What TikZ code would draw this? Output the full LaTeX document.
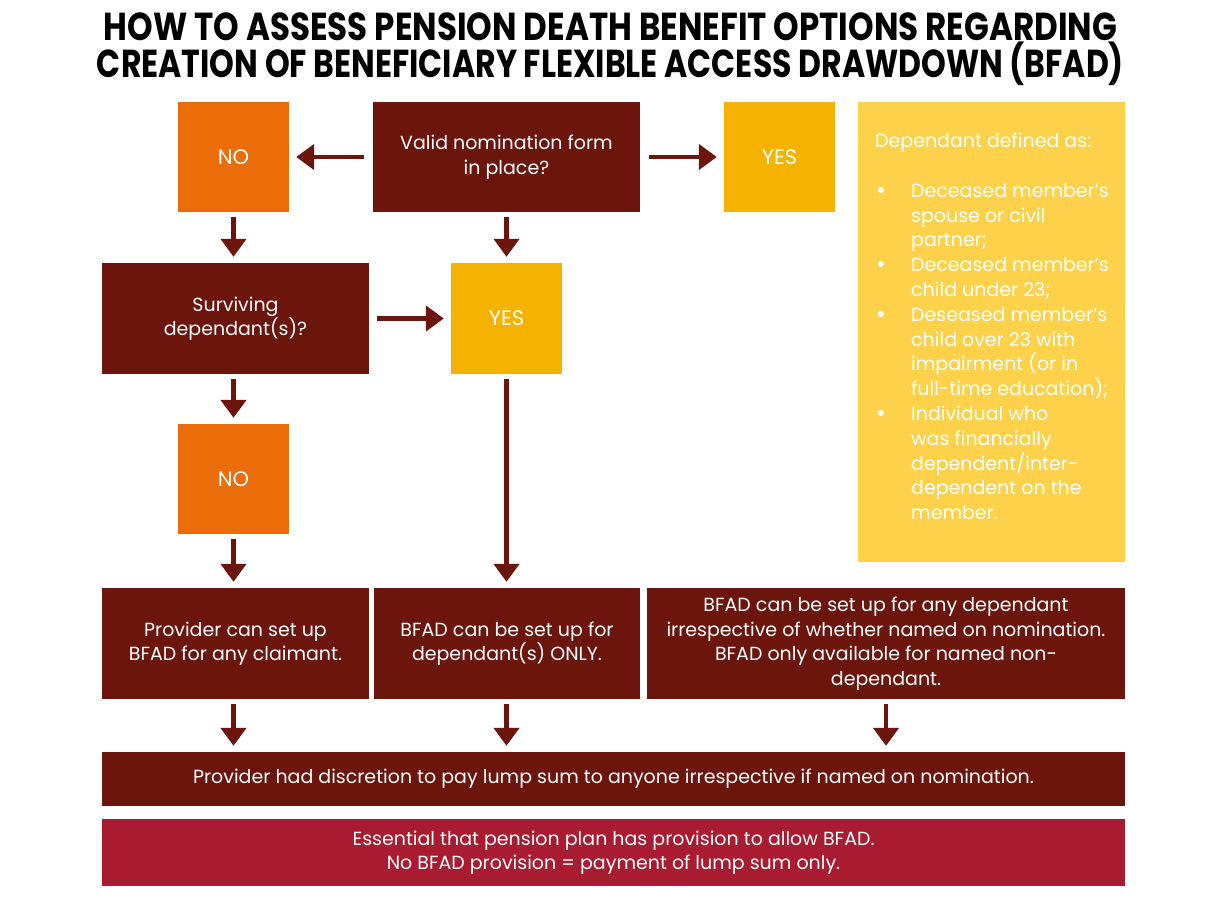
\documentclass[tikz,border=0pt]{standalone}
\usepackage{fontspec}
\setmainfont{Poppins}
\usetikzlibrary{arrows.meta}
\definecolor{dred}{HTML}{6B150D}
\definecolor{nocol}{HTML}{EB6D0A}
\definecolor{yescol}{HTML}{F5B200}
\definecolor{depcol}{HTML}{FDD24A}
\definecolor{esscol}{HTML}{A81B31}
\newcommand{\bul}{\hspace*{1pt}\makebox[35pt][l]{\fontsize{24}{24}\selectfont\raisebox{-1pt}{\textbullet}}}
\newcommand{\ind}{\hspace*{36pt}}
\begin{document}
\begin{tikzpicture}[x=1pt,y=-1pt,
  box/.style={fill=dred, text=white, align=center, inner sep=0pt, font=\fontsize{19}{24.5}\selectfont},
  nobox/.style={box, fill=nocol, minimum width=111pt, minimum height=110pt, font=\fontsize{21}{24}\selectfont},
  yesbox/.style={box, fill=yescol, minimum width=111pt, minimum height=110pt, font=\fontsize{21}{24}\selectfont},
  arr/.style={draw=dred, line width=4.5pt, -{Triangle[length=18pt,width=25pt]}, shorten <=5pt, shorten >=6pt}]
\useasboundingbox[fill=white] (0,0) rectangle (1219,914);
% title
\node[anchor=base, inner sep=0pt] (t1) at (610.5,40) {\resizebox{1013pt}{\height}{\fontsize{39}{39}\selectfont\bfseries HOW TO ASSESS PENSION DEATH BENEFIT OPTIONS REGARDING}};
\node[anchor=base, inner sep=0pt] (t2) at (610.5,77) {\resizebox{1027pt}{\height}{\fontsize{39}{39}\selectfont\bfseries CREATION OF BENEFICIARY FLEXIBLE ACCESS DRAWDOWN (BFAD)}};
% boxes
\node[nobox] (noA) at (233.5,157) {NO};
\node[box, minimum width=267pt, minimum height=110pt] (valid) at (506.5,157) {Valid nomination form\\in place?};
\node[yesbox] (yesA) at (779.5,157) {YES};
\node[fill=depcol, minimum width=267pt, minimum height=460pt, inner sep=0pt] (dep) at (991.5,332) {};
\node[anchor=north west, align=left, inner sep=0pt, text=white, font=\fontsize{19}{24.8}\selectfont] (deptext) at (875,133) {%
Dependant defined as:\\[24.8pt]
\bul Deceased member’s\\
\ind spouse or civil\\
\ind partner;\\
\bul Deceased member’s\\
\ind child under 23;\\
\bul Deseased member’s\\
\ind child over 23 with\\
\ind impairment (or in\\
\ind full-time education);\\
\bul Individual who\\
\ind was financially\\
\ind dependent/inter-\\
\ind dependent on the\\
\ind member.};
\node[box, minimum width=267pt, minimum height=111pt] (surv) at (235.5,318.5) {Surviving\\dependant(s)?};
\node[yesbox, minimum height=111pt] (yesB) at (506.5,318.5) {YES};
\node[nobox] (noB) at (233.5,479) {NO};
\node[box, minimum width=267pt, minimum height=111pt] (prov) at (235.5,643.5) {Provider can set up\\BFAD for any claimant.};
\node[box, minimum width=266pt, minimum height=111pt] (only) at (507,643.5) {BFAD can be set up for\\dependant(s) ONLY.};
\node[box, minimum width=478pt, minimum height=111pt] (any) at (886,643.5) {BFAD can be set up for any dependant\\irrespective of whether named on nomination.\\BFAD only available for named non-\\dependant.};
\node[box, minimum width=1023pt, minimum height=54pt] (disc) at (613.5,779) {Provider had discretion to pay lump sum to anyone irrespective if named on nomination.};
\node[box, fill=esscol, minimum width=1023pt, minimum height=67pt] (ess) at (613.5,852.5) {Essential that pension plan has provision to allow BFAD.\\No BFAD provision = payment of lump sum only.};
% arrows
\draw[arr, shorten <=9pt, shorten >=7pt] (valid.west) -- (noA.east);
\draw[arr, shorten <=9pt, shorten >=7pt] (valid.east) -- (yesA.west);
\draw[arr] (noA.south) -- (noA.south |- surv.north);
\draw[arr] (valid.south) -- (yesB.north);
\draw[arr, shorten <=8pt, shorten >=7pt] (surv.east) -- (yesB.west);
\draw[arr] (noA.south |- surv.south) -- (noB.north);
\draw[arr] (noB.south) -- (noB.south |- prov.north);
\draw[arr] (yesB.south) -- (yesB.south |- only.north);
\draw[arr] (noB.south |- prov.south) -- (noB.south |- disc.north);
\draw[arr] (yesB.south |- only.south) -- (yesB.south |- disc.north);
\draw[arr] (any.south) -- (any.south |- disc.north);
\end{tikzpicture}
\end{document}
